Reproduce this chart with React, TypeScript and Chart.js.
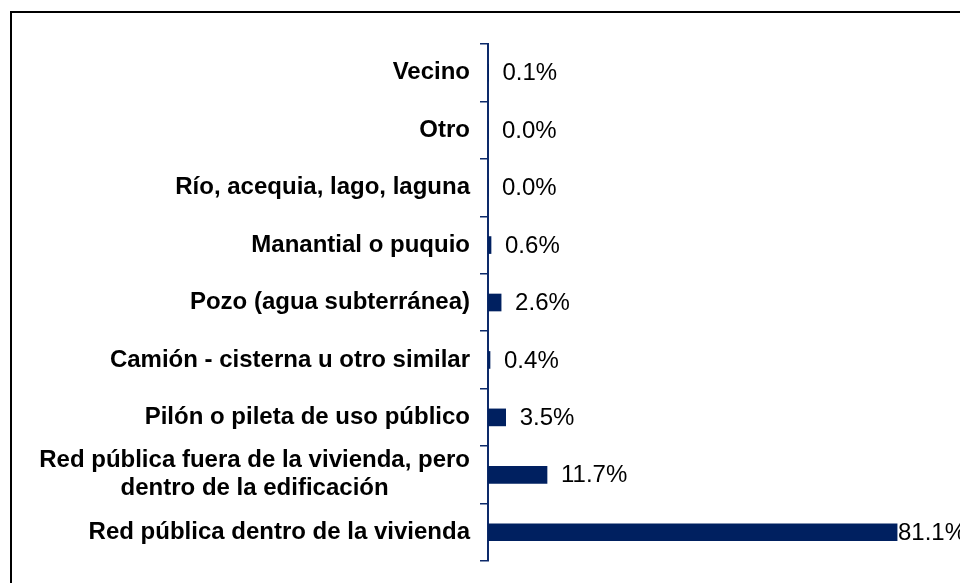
import React, { useEffect, useRef } from "react";
import { Chart, registerables } from "chart.js";

Chart.register(...registerables);

const categories: string[][] = [
  ["Vecino"],
  ["Otro"],
  ["Río, acequia, lago, laguna"],
  ["Manantial o puquio"],
  ["Pozo (agua subterránea)"],
  ["Camión - cisterna u otro similar"],
  ["Pilón o pileta de uso público"],
  ["Red pública fuera de la vivienda, pero", "dentro de la edificación"],
  ["Red pública dentro de la vivienda"],
];
const values: number[] = [0.1, 0.0, 0.0, 0.6, 2.6, 0.4, 3.5, 11.7, 81.1];
const valueLabels: string[] = values.map((v) => v.toFixed(1) + "%");

const FONT = '"Liberation Sans", Arial, sans-serif';
const BAR_COLOR = "#002060";
const AXIS_COLOR = "#0d2a6a";

const framePlugin = {
  id: "frame",
  beforeDraw(chart: any) {
    const ctx = chart.ctx;
    ctx.save();
    ctx.fillStyle = "#ffffff";
    ctx.fillRect(0, 0, chart.width, chart.height);
    ctx.strokeStyle = "#000000";
    ctx.lineWidth = 2;
    ctx.beginPath();
    ctx.moveTo(11, chart.height + 10);
    ctx.lineTo(11, 12);
    ctx.lineTo(chart.width + 10, 12);
    ctx.stroke();
    ctx.restore();
  },
};

const labelsPlugin = {
  id: "customLabels",
  afterDraw(chart: any) {
    const ctx = chart.ctx;
    const yScale = chart.scales.y;
    const area = chart.chartArea;
    ctx.save();
    // category labels
    ctx.font = `bold 24px ${FONT}`;
    ctx.fillStyle = "#000000";
    ctx.textAlign = "center";
    ctx.textBaseline = "middle";
    const rightEdge = area.left - 18;
    const lineH = 28;
    categories.forEach((lines, i) => {
      const y = yScale.getPixelForValue(i);
      const maxW = Math.max(...lines.map((l) => ctx.measureText(l).width));
      const cx = rightEdge - maxW / 2;
      const y0 = y - ((lines.length - 1) * lineH) / 2;
      lines.forEach((l, j) => ctx.fillText(l, cx, y0 + j * lineH));
    });
    // value labels
    ctx.font = `24px ${FONT}`;
    ctx.textAlign = "left";
    const meta = chart.getDatasetMeta(0);
    meta.data.forEach((bar: any, i: number) => {
      const txt = valueLabels[i];
      const w = ctx.measureText(txt).width;
      let x = bar.x + 14;
      const limit = area.right + 24;
      if (x + w > limit) x = limit - w;
      ctx.fillText(txt, x, bar.y + 1);
    });
    ctx.restore();
  },
};

export default function App() {
  const ref = useRef<HTMLCanvasElement>(null);
  useEffect(() => {
    if (!ref.current) return;
    const chart = new Chart(ref.current, {
      type: "bar",
      data: {
        labels: categories,
        datasets: [
          {
            data: values,
            backgroundColor: BAR_COLOR,
            borderWidth: 0,
            barThickness: 17,
          },
        ],
      },
      options: {
        indexAxis: "y",
        animation: false,
        responsive: false,
        maintainAspectRatio: false,
        layout: { padding: { top: 44, bottom: 22, right: 18, left: 0 } },
        plugins: {
          legend: { display: false },
          tooltip: { enabled: false },
        },
        scales: {
          x: { display: false, min: 0, max: 90 },
          y: {
            offset: true,
            border: { display: true, color: AXIS_COLOR, width: 2 },
            grid: {
              display: true,
              offset: true,
              drawOnChartArea: false,
              drawTicks: true,
              tickLength: 8,
              color: AXIS_COLOR,
              lineWidth: 1.5,
            },
            ticks: { display: false },
            afterFit: (scale: any) => {
              scale.width = 488;
            },
          },
        },
      },
      plugins: [framePlugin, labelsPlugin],
    });
    return () => chart.destroy();
  }, []);
  return (
    <div style={{ position: "fixed", left: 0, top: 0, width: 960, height: 583 }}>
      <canvas ref={ref} width={960} height={583} />
    </div>
  );
}
